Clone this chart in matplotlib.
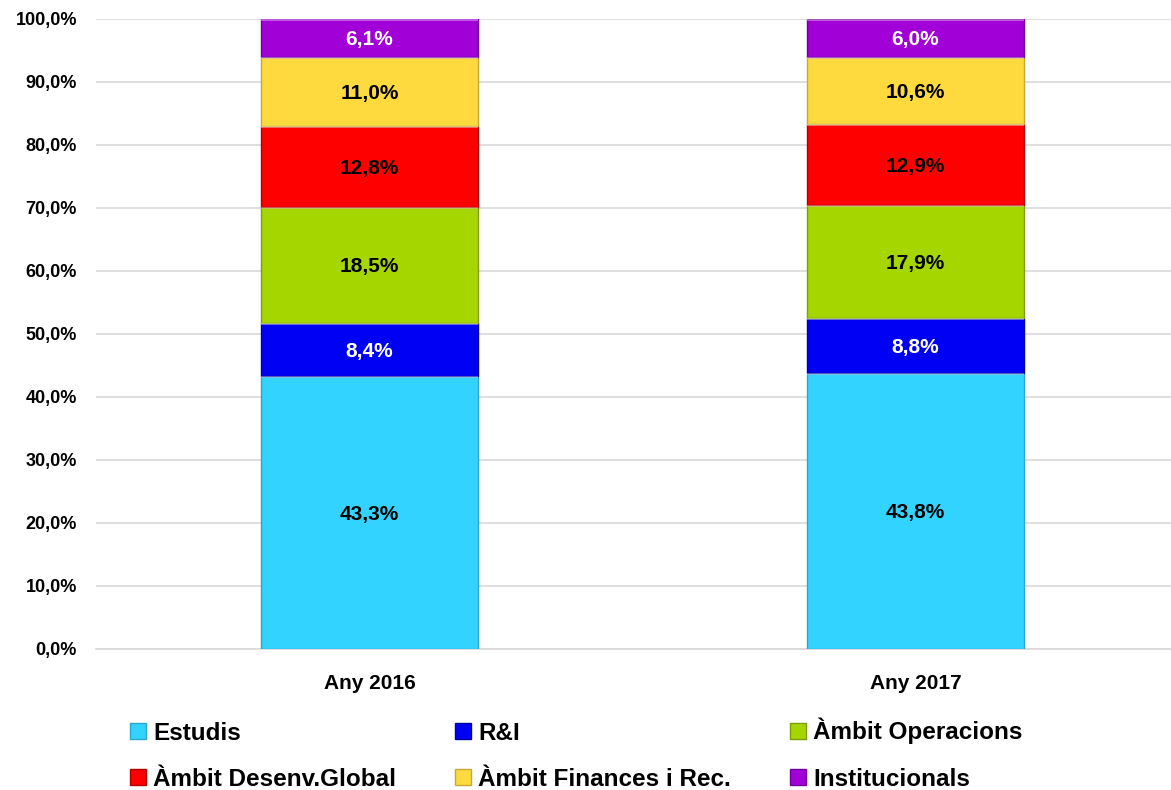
import matplotlib.pyplot as plt
import numpy as np
from matplotlib.patches import Rectangle

plt.rcParams['font.family'] = ['Liberation Sans', 'DejaVu Sans']
plt.rcParams['font.weight'] = 'bold'

years = ['Any 2016', 'Any 2017']
series = ['Estudis', 'R&I', 'Àmbit Operacions',
          'Àmbit Desenv.Global', 'Àmbit Finances i Rec.', 'Institucionals']
values = {
    'Estudis': [43.3, 43.8],
    'R&I': [8.4, 8.8],
    'Àmbit Operacions': [18.5, 17.9],
    'Àmbit Desenv.Global': [12.8, 12.9],
    'Àmbit Finances i Rec.': [11.0, 10.6],
    'Institucionals': [6.1, 6.0],
}
colors = ['#33D3FF', '#0000F5', '#A6D600', '#FF0000', '#FFDA3F', '#A100D6']
edges = ['#2AA8CC', '#0000A0', '#7F9F00', '#B00000', '#C8A830', '#7000A0']
txt_colors = ['black', 'white', 'black', 'black', 'black', 'white']

fig = plt.figure(figsize=(11.71, 7.90), dpi=100)
ax = fig.add_axes([0.0824, 0.1785, 0.9325, 0.7975])

x = np.arange(len(years))
bottom = np.zeros(len(years))
for s, c, ec, tc in zip(series, colors, edges, txt_colors):
    v = np.array(values[s])
    ax.bar(x, v, 0.397, bottom=bottom, color=c, edgecolor=ec, linewidth=1, zorder=3)
    # light bevel strip at top of each segment
    ax.bar(x, np.full(len(x), 0.35), 0.397, bottom=np.minimum(bottom + v, 100) - 0.35,
           color='white', alpha=0.35, linewidth=0, zorder=4)
    for xi, b, vi in zip(x, bottom, v):
        ax.text(xi, b + vi / 2 - 0.3, f'{vi:.1f}%'.replace('.', ','), ha='center', va='center',
                fontsize=15, fontweight='bold', color=tc, zorder=5)
    bottom += v

ax.set_xlim(-0.5, 1.5)
ax.set_ylim(0, 100)
ax.set_yticks(np.arange(0, 101, 10))
ax.set_yticklabels([f'{t:.1f}%'.replace('.', ',') for t in np.arange(0, 101, 10)],
                   fontsize=13, fontweight='bold')
ax.set_xticks(x)
ax.set_xticklabels(years, fontsize=15, fontweight='bold')
ax.tick_params(axis='y', length=0, pad=14)
ax.tick_params(axis='x', length=0, pad=18)
ax.grid(axis='y', color='#D9D9D9', linewidth=1.2, zorder=0)
for sp in ['top', 'right', 'left']:
    ax.spines[sp].set_visible(False)
ax.spines['bottom'].set_color('#D9D9D9')
ax.spines['bottom'].set_linewidth(1.2)

# legend: three columns x two rows
W, H = 1171.0, 790.0
col_x = [130, 455, 790]
row_y = [731, 777]
for i, lab in enumerate(series):
    cx = col_x[i % 3]
    cy = row_y[i // 3]
    fig.add_artist(Rectangle((cx / W, 1 - (cy + 8) / H), 16 / W, 16 / H,
                             facecolor=colors[i], edgecolor=edges[i], linewidth=1,
                             transform=fig.transFigure))
    fig.text((cx + 23) / W, 1 - (cy + 8.5) / H, lab, ha='left', va='baseline',
             fontsize=17.5, fontweight='bold')

fig.savefig('out.png', dpi=100)
